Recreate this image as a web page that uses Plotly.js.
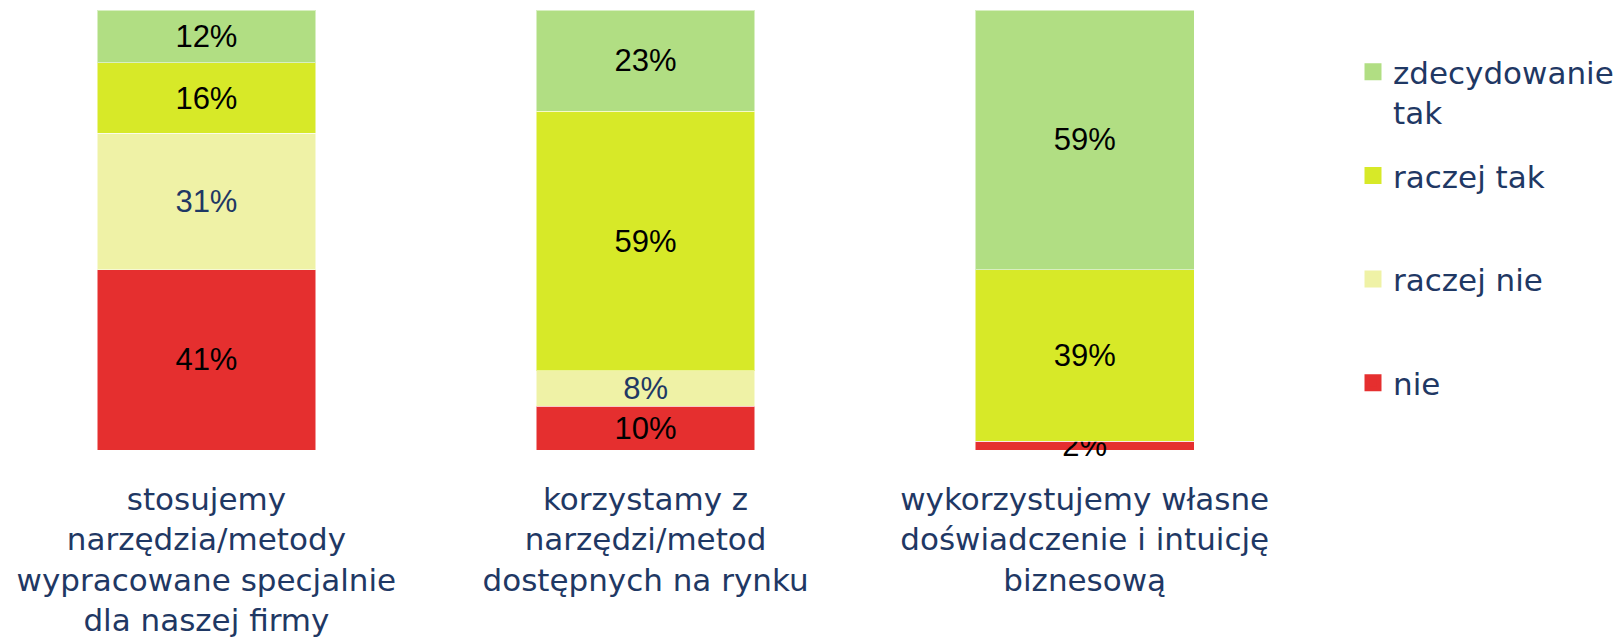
<!DOCTYPE html>
<html>
<head>
<meta charset="utf-8">
<script src="https://cdn.plot.ly/plotly-3.0.1.min.js"></script>
<style>html,body{margin:0;padding:0;background:#fff;}#chart{width:1619px;height:639px;}</style>
</head>
<body>
<div id="chart"></div>
<script>
const categories = [
  "stosujemy<br>narzędzia/metody<br>wypracowane specjalnie<br>dla naszej firmy",
  "korzystamy z<br>narzędzi/metod<br>dostępnych na rynku",
  "wykorzystujemy własne<br>doświadczenie i intuicję<br>biznesową"
];
const seriesNames = ["nie", "raczej nie", "raczej tak", "zdecydowanie<br>tak"];
const nie = [41, 10, 2];
const raczejNie = [31, 8, 0];
const raczejTak = [16, 59, 39];
const zdecydowanieTak = [12, 23, 59];
const seriesValues = [nie, raczejNie, raczejTak, zdecydowanieTak];
const colors = ["#E52F2F", "#EFF2A6", "#D7E928", "#B1DE83"];
const textColors = ["#000000", "#1F3864", "#000000", "#000000"];

const navy = "#1F3864";
const labelFont = "DejaVu Sans, Open Sans, sans-serif";

const dataTraces = seriesValues.map((vals, i) => ({
  type: "bar",
  name: seriesNames[i],
  x: categories,
  y: vals.map(v => v / 100),
  text: vals.map(v => v > 0 ? v + "%" : ""),
  textposition: "inside",
  insidetextanchor: "middle",
  constraintext: "none",
  textangle: 0,
  textfont: {family: "Liberation Sans, Arial, sans-serif", size: 31, color: textColors[i]},
  marker: {color: colors[i], line: {color: "rgba(255,255,255,0.5)", width: 1}},
  showlegend: false,
  hoverinfo: "skip",
  cliponaxis: false
}));

// legend entries (bigger square swatches), no marks drawn
const legendTraces = seriesValues.map((vals, i) => ({
  type: "bar",
  name: seriesNames[i] + (i === 3 ? "" : "<br>&nbsp;"),
  x: categories,
  y: vals.map(() => null),
  marker: {color: colors[i], line: {color: colors[i], width: 5}},
  legendgroup: "g" + i,
  legendrank: 4 - i,
  showlegend: true,
  hoverinfo: "skip"
}));

const layout = {
  width: 1619,
  height: 639,
  barmode: "stack",
  bargap: 0.502,
  margin: {l: 0, r: 319, t: 10, b: 189},
  paper_bgcolor: "#ffffff",
  plot_bgcolor: "#ffffff",
  showlegend: true,
  legend: {
    x: 1.0415, xanchor: "left",
    y: 0.92, yanchor: "top",
    traceorder: "grouped",
    tracegroupgap: 20,
    valign: "top",
    font: {family: labelFont, size: 31, color: navy},
    bgcolor: "rgba(0,0,0,0)"
  },
  xaxis: {
    type: "category",
    range: [-0.47, 2.488],
    showgrid: false, zeroline: false, showline: false,
    ticks: "",
    ticklabelstandoff: 28,
    tickfont: {family: labelFont, size: 31, color: navy},
    fixedrange: true
  },
  yaxis: {
    range: [0, 1],
    visible: false,
    showgrid: false, zeroline: false,
    fixedrange: true
  }
};

Plotly.newPlot("chart", dataTraces.concat(legendTraces), layout, {displayModeBar: false, staticPlot: true});
</script>
</body>
</html>
